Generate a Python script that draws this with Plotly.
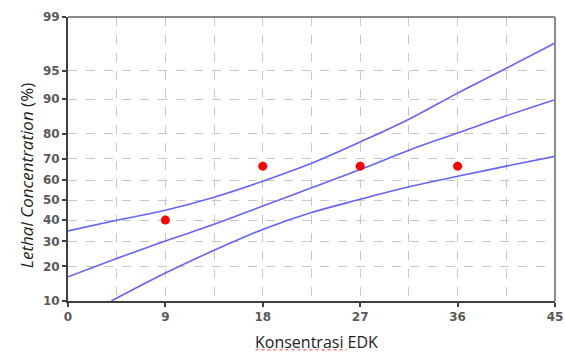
import plotly.graph_objects as go
from statistics import NormalDist

_nd = NormalDist()


def probit(p):
    return _nd.inv_cdf(p / 100.0)


# ---- data ----
band_x = [0, 4.5, 9, 13.5, 18, 22.5, 27, 31.5, 36, 40.5, 45]
upper_pct = [34.8, 39.9, 44.9, 51.5, 59.5, 68.0, 77.0, 84.8, 91.3, 95.3, 97.7]
middle_pct = [16.5, 22.9, 30.2, 37.9, 47.0, 56.2, 65.1, 73.7, 80.3, 85.8, 89.9]
lower_x = [4.0, 9, 13.5, 18, 22.5, 27, 31.5, 36, 40.5, 45]
lower_pct = [10.0, 17.7, 26.2, 35.5, 43.7, 50.4, 56.7, 61.9, 66.7, 71.1]

obs_x = [9, 18, 27, 36]
obs_pct = [40.0, 66.7, 66.7, 66.7]

y_tick_pct = [10, 20, 30, 40, 50, 60, 70, 80, 90, 95, 99]
x_tick_vals = [0, 9, 18, 27, 36, 45]

line_color = "rgb(100,100,248)"

fig = go.Figure()
for xs, ps in [(band_x, upper_pct), (band_x, middle_pct), (lower_x, lower_pct)]:
    fig.add_trace(go.Scatter(
        x=xs, y=[probit(p) for p in ps], mode="lines",
        line=dict(color=line_color, width=1.6, shape="spline", smoothing=1.0),
        hoverinfo="skip", showlegend=False))

fig.add_trace(go.Scatter(
    x=obs_x, y=[probit(p) for p in obs_pct], mode="markers",
    marker=dict(color="#ff0000", size=9, line=dict(width=0)),
    showlegend=False))

tickfont = dict(family="DejaVu Sans", size=12, color="#5a5a5a", weight="bold")
grid_color = "#c8c8c8"

fig.update_xaxes(
    range=[0, 45], tickvals=x_tick_vals, ticktext=[str(v) for v in x_tick_vals],
    ticks="outside", ticklen=4, tickwidth=1.5, tickcolor="#404040",
    showline=True, linecolor="#404040", linewidth=2,
    showgrid=True, gridcolor=grid_color, griddash="dash", gridwidth=1,
    minor=dict(dtick=4.5, tick0=0, showgrid=True, gridcolor=grid_color,
               griddash="dash", gridwidth=1, ticks=""),
    tickfont=tickfont, zeroline=False, fixedrange=True, automargin=False)

fig.update_yaxes(
    range=[probit(10), probit(99)],
    tickvals=[probit(p) for p in y_tick_pct], ticktext=[str(p) for p in y_tick_pct],
    ticks="outside", ticklen=4, tickwidth=1.5, tickcolor="#404040",
    showline=True, linecolor="#404040", linewidth=2,
    showgrid=True, gridcolor=grid_color, griddash="dash", gridwidth=1,
    tickfont=tickfont, zeroline=False, fixedrange=True, automargin=False)

# top and right frame in gray
fig.add_shape(type="line", xref="paper", yref="paper", x0=0, x1=1, y0=1, y1=1,
              line=dict(color="#8a8a8a", width=2))
fig.add_shape(type="line", xref="paper", yref="paper", x0=1, x1=1, y0=0, y1=1,
              line=dict(color="#8a8a8a", width=2))

# axis titles
fig.add_annotation(
    text="<i>Lethal Concentration</i> (%)", textangle=-90,
    xref="paper", yref="paper", x=-0.086, y=0.44, xanchor="center", yanchor="middle",
    showarrow=False, font=dict(family="Open Sans", size=17, color="#222222"))
fig.add_annotation(
    text="Konsentrasi EDK",
    xref="paper", yref="paper", x=0.51, y=-0.144, xanchor="center", yanchor="middle",
    showarrow=False, font=dict(family="Open Sans", size=16, color="#222222"))
# spell-check squiggle under "Konsentrasi"
fig.add_shape(type="line", xref="paper", yref="paper", x0=0.385, x1=0.572,
              y0=-0.172, y1=-0.172, line=dict(color="#ff4040", width=1, dash="dot"))

fig.update_layout(
    width=565, height=352,
    margin=dict(l=68, r=10, t=17, b=51),
    paper_bgcolor="white", plot_bgcolor="white",
    showlegend=False)

fig.write_html("out.html", config={"displayModeBar": False},
               post_script="document.body.style.margin='0px';")
